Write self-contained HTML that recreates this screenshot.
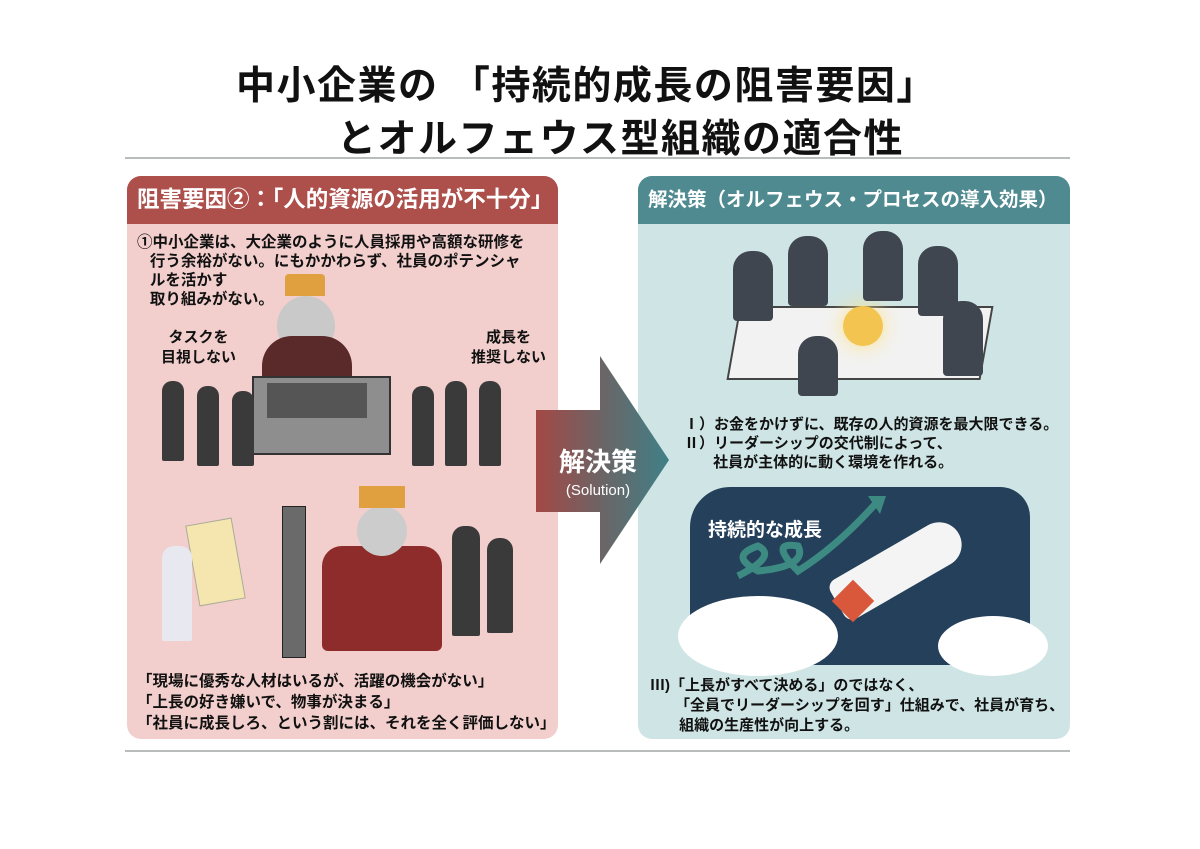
<!DOCTYPE html>
<html><head><meta charset="utf-8"><style>
body{margin:0;width:1200px;height:849px;background:#fff;position:relative;overflow:hidden;font-family:"Liberation Sans","Noto Sans CJK JP",sans-serif;}
.a{position:absolute;}
.t{font-weight:bold;color:#111;white-space:nowrap;}
</style></head><body>
<div class="a t" style="left:236px;top:67px;font-size:39px;line-height:1;letter-spacing:1.5px;">中小企業の 「持続的成長の阻害要因」</div>
<div class="a t" style="left:337px;top:120px;font-size:39px;line-height:1;letter-spacing:1.5px;">とオルフェウス型組織の適合性</div>
<div class="a" style="left:125px;top:157px;width:945px;height:2px;background:#b8bcbc;"></div>
<div class="a" style="left:125px;top:750px;width:945px;height:2px;background:#b8bcbc;"></div>

<div class="a" style="left:127px;top:176px;width:431px;height:563px;background:#f2cfcd;border-radius:14px;overflow:hidden;">
 <div style="height:48px;background:#ad4f4b;color:#fff;font-size:22.5px;font-weight:bold;line-height:48px;padding-left:10px;white-space:nowrap;">阻害要因②：「人的資源の活用が不十分」</div>
 <div class="a t" style="left:10px;top:57px;font-size:15.5px;line-height:19px;">①中小企業は、大企業のように人員採用や高額な研修を<br>&nbsp;&nbsp;&nbsp;行う余裕がない。にもかかわらず、社員のポテンシャ<br>&nbsp;&nbsp;&nbsp;ルを活かす<br>&nbsp;&nbsp;&nbsp;取り組みがない。</div>
 <div class="a t" style="left:34px;top:152px;font-size:15px;line-height:20px;text-align:center;">タスクを<br>目視しない</div>
 <div class="a t" style="left:344px;top:152px;font-size:15px;line-height:20px;text-align:center;">成長を<br>推奨しない</div>
 <div class="a" style="left:158px;top:98px;width:40px;height:22px;background:#e0a040;border-radius:4px 4px 0 0;"></div>
 <div class="a" style="left:150px;top:120px;width:58px;height:60px;background:#c9c9c9;border-radius:50%;"></div>
 <div class="a" style="left:135px;top:160px;width:90px;height:60px;background:#5a2a2a;border-radius:30px 30px 0 0;"></div>
 <div class="a" style="left:125px;top:200px;width:135px;height:75px;background:#8e8e8e;border:2px solid #333;"></div>
 <div class="a" style="left:140px;top:207px;width:100px;height:35px;background:#555;"></div>
 <div class="a" style="left:35px;top:205px;width:22px;height:80px;background:#3a3a3a;border-radius:10px 10px 2px 2px;"></div>
 <div class="a" style="left:70px;top:210px;width:22px;height:80px;background:#3a3a3a;border-radius:10px 10px 2px 2px;"></div>
 <div class="a" style="left:105px;top:215px;width:22px;height:75px;background:#3a3a3a;border-radius:10px 10px 2px 2px;"></div>
 <div class="a" style="left:285px;top:210px;width:22px;height:80px;background:#3a3a3a;border-radius:10px 10px 2px 2px;"></div>
 <div class="a" style="left:318px;top:205px;width:22px;height:85px;background:#3a3a3a;border-radius:10px 10px 2px 2px;"></div>
 <div class="a" style="left:352px;top:205px;width:22px;height:85px;background:#3a3a3a;border-radius:10px 10px 2px 2px;"></div>
 <div class="a" style="left:65px;top:345px;width:45px;height:80px;background:#f5e6b0;border:1px solid #aa9;transform:rotate(-10deg);"></div>
 <div class="a" style="left:35px;top:370px;width:30px;height:95px;background:#e8e8f0;border-radius:12px 12px 2px 2px;"></div>
 <div class="a" style="left:155px;top:330px;width:22px;height:150px;background:#6a6a6a;border:1px solid #222;"></div>
 <div class="a" style="left:195px;top:370px;width:120px;height:105px;background:#8e2b2b;border-radius:20px 20px 6px 6px;"></div>
 <div class="a" style="left:230px;top:330px;width:50px;height:50px;background:#ccc;border-radius:50%;"></div>
 <div class="a" style="left:232px;top:310px;width:46px;height:22px;background:#e0a040;"></div>
 <div class="a" style="left:325px;top:350px;width:28px;height:110px;background:#3a3a3a;border-radius:12px 12px 2px 2px;"></div>
 <div class="a" style="left:360px;top:362px;width:26px;height:95px;background:#3a3a3a;border-radius:12px 12px 2px 2px;"></div>
 <div class="a t" style="left:10px;top:495px;font-size:15.5px;line-height:21px;">「現場に優秀な人材はいるが、活躍の機会がない」<br>「上長の好き嫌いで、物事が決まる」<br>「社員に成長しろ、という割には、それを全く評価しない」</div>
</div>

<div class="a" style="left:638px;top:176px;width:432px;height:563px;background:#cfe4e4;border-radius:14px;overflow:hidden;">
 <div style="height:48px;background:#4e8a8f;color:#fff;font-size:19.5px;font-weight:bold;line-height:48px;padding-left:10px;white-space:nowrap;">解決策（オルフェウス・プロセスの導入効果）</div>
 <div class="a" style="left:95px;top:130px;width:250px;height:70px;background:#f2f2f2;border:2px solid #444;transform:skewX(-10deg);"></div>
 <div class="a" style="left:205px;top:130px;width:40px;height:40px;background:#f3c550;border-radius:50%;box-shadow:0 0 20px #fde28a;"></div>
 <div class="a" style="left:95px;top:75px;width:40px;height:70px;background:#3f4650;border-radius:18px 18px 4px 4px;"></div>
 <div class="a" style="left:150px;top:60px;width:40px;height:70px;background:#3f4650;border-radius:18px 18px 4px 4px;"></div>
 <div class="a" style="left:225px;top:55px;width:40px;height:70px;background:#3f4650;border-radius:18px 18px 4px 4px;"></div>
 <div class="a" style="left:280px;top:70px;width:40px;height:70px;background:#3f4650;border-radius:18px 18px 4px 4px;"></div>
 <div class="a" style="left:305px;top:125px;width:40px;height:75px;background:#3f4650;border-radius:18px 18px 4px 4px;"></div>
 <div class="a" style="left:160px;top:160px;width:40px;height:60px;background:#3f4650;border-radius:18px 18px 4px 4px;"></div>
 <div class="a t" style="left:46px;top:239px;font-size:15px;line-height:19px;">Ⅰ）お金をかけずに、既存の人的資源を最大限できる。<br>Ⅱ）リーダーシップの交代制によって、<br>&nbsp;&nbsp;&nbsp;&nbsp;&nbsp;&nbsp;&nbsp;社員が主体的に動く環境を作れる。</div>
 <div class="a" style="left:52px;top:311px;width:340px;height:178px;background:#24405a;border-radius:40px 30px 20px 20px;"></div>
 <div class="a" style="left:40px;top:420px;width:160px;height:80px;background:#fff;border-radius:50%;"></div>
 <div class="a" style="left:300px;top:440px;width:110px;height:60px;background:#fff;border-radius:50%;"></div>
 <div class="a" style="left:190px;top:370px;width:140px;height:45px;background:#f4f4f4;border-radius:25px 60px 60px 25px;transform:rotate(-30deg);"></div>
 <div class="a" style="left:200px;top:410px;width:30px;height:30px;background:#d9573b;transform:rotate(45deg);"></div>
 <svg class="a" style="left:90px;top:320px;" width="160" height="90"><path d="M10 80 Q50 60 30 50 Q0 60 30 75 Q80 70 70 50 Q40 45 70 75 Q110 50 150 5" fill="none" stroke="#3d8a82" stroke-width="7"/><polygon points="140,0 158,0 152,18" fill="#3d8a82"/></svg>
 <div class="a" style="left:70px;top:339px;font-size:19px;font-weight:bold;color:#fff;white-space:nowrap;">持続的な成長</div>
 <div class="a t" style="left:12px;top:500px;font-size:15px;line-height:20px;">Ⅲ)「上長がすべて決める」のではなく、<br>&nbsp;&nbsp;&nbsp;&nbsp;&nbsp;&nbsp;「全員でリーダーシップを回す」仕組みで、社員が育ち、<br>&nbsp;&nbsp;&nbsp;&nbsp;&nbsp;&nbsp;&nbsp;組織の生産性が向上する。</div>
</div>

<svg class="a" style="left:536px;top:356px;" width="134" height="210">
 <defs><linearGradient id="g" x1="0" x2="1"><stop offset="0" stop-color="#a44845"/><stop offset="0.5" stop-color="#6b6566"/><stop offset="1" stop-color="#3f8087"/></linearGradient></defs>
 <polygon points="0,54 64,54 64,0 133,104 64,208 64,156 0,156" fill="url(#g)"/>
 <text x="62" y="115" text-anchor="middle" font-size="26" font-weight="bold" fill="#fff" font-family="Liberation Sans, Noto Sans CJK JP, sans-serif">解決策</text>
 <text x="62" y="139" text-anchor="middle" font-size="15" fill="#fff" font-family="Liberation Sans, sans-serif">(Solution)</text>
</svg>
</body></html>
